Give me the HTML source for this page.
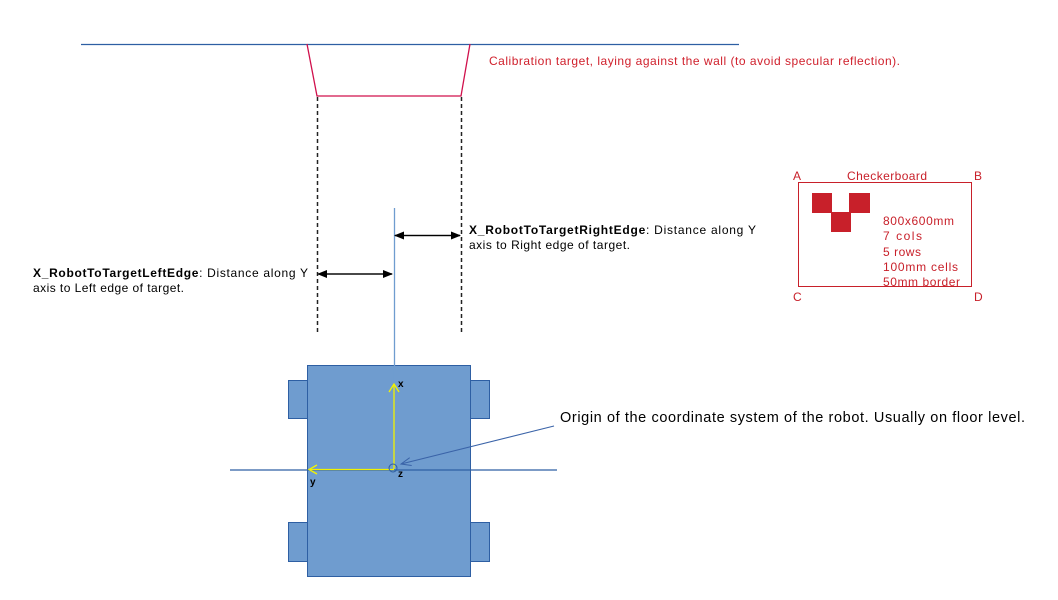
<!DOCTYPE html>
<html><head><meta charset="utf-8"><style>
html,body{margin:0;padding:0;background:#fff;}
svg text{font-family:"Liberation Sans",Arial,sans-serif;}
</style></head><body>
<svg width="1058" height="595" viewBox="0 0 1058 595" xmlns="http://www.w3.org/2000/svg">
<defs>
<marker id="ah" markerWidth="10" markerHeight="8" refX="9" refY="4" orient="auto" markerUnits="userSpaceOnUse"><path d="M0,0 L10,4 L0,8 z" fill="#000"/></marker>
</defs>
<line x1="81" y1="44.5" x2="739" y2="44.5" stroke="#2e5fa3" stroke-width="1.3"/>
<polyline points="307,44 317,96 461,96 470,44" fill="none" stroke="#d0104c" stroke-width="1.3"/>
<text x="489" y="65" font-size="12" fill="#d0202c" textLength="411" lengthAdjust="spacing">Calibration target, laying against the wall (to avoid  specular reflection).</text>
<line x1="317.5" y1="97" x2="317.5" y2="333" stroke="#222" stroke-width="1.5" stroke-dasharray="4,3"/>
<line x1="461.5" y1="97" x2="461.5" y2="333" stroke="#222" stroke-width="1.5" stroke-dasharray="4,3"/>
<rect x="288.5" y="380.5" width="19" height="38" fill="#6f9ccf" stroke="#2e5fa3"/>
<rect x="470.5" y="380.5" width="19" height="38" fill="#6f9ccf" stroke="#2e5fa3"/>
<rect x="288.5" y="522.5" width="19" height="39" fill="#6f9ccf" stroke="#2e5fa3"/>
<rect x="470.5" y="522.5" width="19" height="39" fill="#6f9ccf" stroke="#2e5fa3"/>
<rect x="307.5" y="365.5" width="163" height="211" fill="#6f9ccf" stroke="#2e5fa3"/>
<line x1="394.5" y1="208" x2="394.5" y2="469" stroke="#6f9ccf" stroke-width="1.3"/>
<line x1="230" y1="470" x2="557" y2="470" stroke="#2e5fa3" stroke-width="1.2"/>
<line x1="394" y1="469" x2="394" y2="384" stroke="#f2f200" stroke-width="1.3"/>
<polyline points="389,392 394,384 399,392" fill="none" stroke="#f2f200" stroke-width="1.3"/>
<line x1="394" y1="469.5" x2="309" y2="469.5" stroke="#f2f200" stroke-width="1.3"/>
<polyline points="317,465 309,469.5 317,474" fill="none" stroke="#f2f200" stroke-width="1.3"/>
<circle cx="393" cy="468" r="4" fill="none" stroke="#2e5fa3" stroke-width="1"/>
<text x="398" y="387" font-size="10" font-weight="bold">x</text>
<text x="310" y="485" font-size="10" font-weight="bold">y</text>
<text x="398" y="477" font-size="10" font-weight="bold">z</text>
<line x1="554" y1="426" x2="401" y2="464" stroke="#3a63a8" stroke-width="1"/>
<polyline points="411.7,465.5 401,464 409.7,457.7" fill="none" stroke="#3a63a8" stroke-width="1"/>
<text x="560" y="422" font-size="14.5" textLength="465" lengthAdjust="spacing">Origin of the coordinate system of the robot. Usually  on floor level.</text>
<line x1="320" y1="274" x2="392" y2="274" stroke="#000" stroke-width="1.3" marker-end="url(#ah)"/>
<line x1="392" y1="274" x2="318" y2="274" stroke="#000" stroke-width="1.3" marker-end="url(#ah)"/>
<line x1="395" y1="235.5" x2="460" y2="235.5" stroke="#000" stroke-width="1.3" marker-end="url(#ah)"/>
<line x1="460" y1="235.5" x2="395" y2="235.5" stroke="#000" stroke-width="1.3" marker-end="url(#ah)"/>
<text x="33" y="277" font-size="12" textLength="275" lengthAdjust="spacing"><tspan font-weight="bold">X_RobotToTargetLeftEdge</tspan>:  Distance along Y</text>
<text x="33" y="292" font-size="12" textLength="151" lengthAdjust="spacing">axis to Left  edge  of target.</text>
<text x="469" y="234" font-size="12" textLength="287" lengthAdjust="spacing"><tspan font-weight="bold">X_RobotToTargetRightEdge</tspan>:  Distance along Y</text>
<text x="469" y="249" font-size="12" textLength="161" lengthAdjust="spacing">axis to Right  edge of target.</text>
<rect x="798.5" y="182.5" width="173" height="104" fill="none" stroke="#c8202a" stroke-width="1"/>
<rect x="812" y="193" width="20" height="20" fill="#c8202a"/>
<rect x="831" y="212" width="20" height="20" fill="#c8202a"/>
<rect x="849" y="193" width="21" height="20" fill="#c8202a"/>
<g font-size="12" fill="#c8202a">
<text x="793" y="180">A</text>
<text x="847" y="180" textLength="80" lengthAdjust="spacing">Checkerboard</text>
<text x="974" y="180">B</text>
<text x="793" y="301">C</text>
<text x="974" y="301">D</text>
<text x="883" y="225" textLength="71" lengthAdjust="spacing">800x600mm</text>
<text x="883" y="240" textLength="39" lengthAdjust="spacing">7 cols</text>
<text x="883" y="256" textLength="38" lengthAdjust="spacing">5 rows</text>
<text x="883" y="271" textLength="75" lengthAdjust="spacing">100mm cells</text>
<text x="883" y="286" textLength="77" lengthAdjust="spacing">50mm border</text>
</g>
</svg>
</body></html>
